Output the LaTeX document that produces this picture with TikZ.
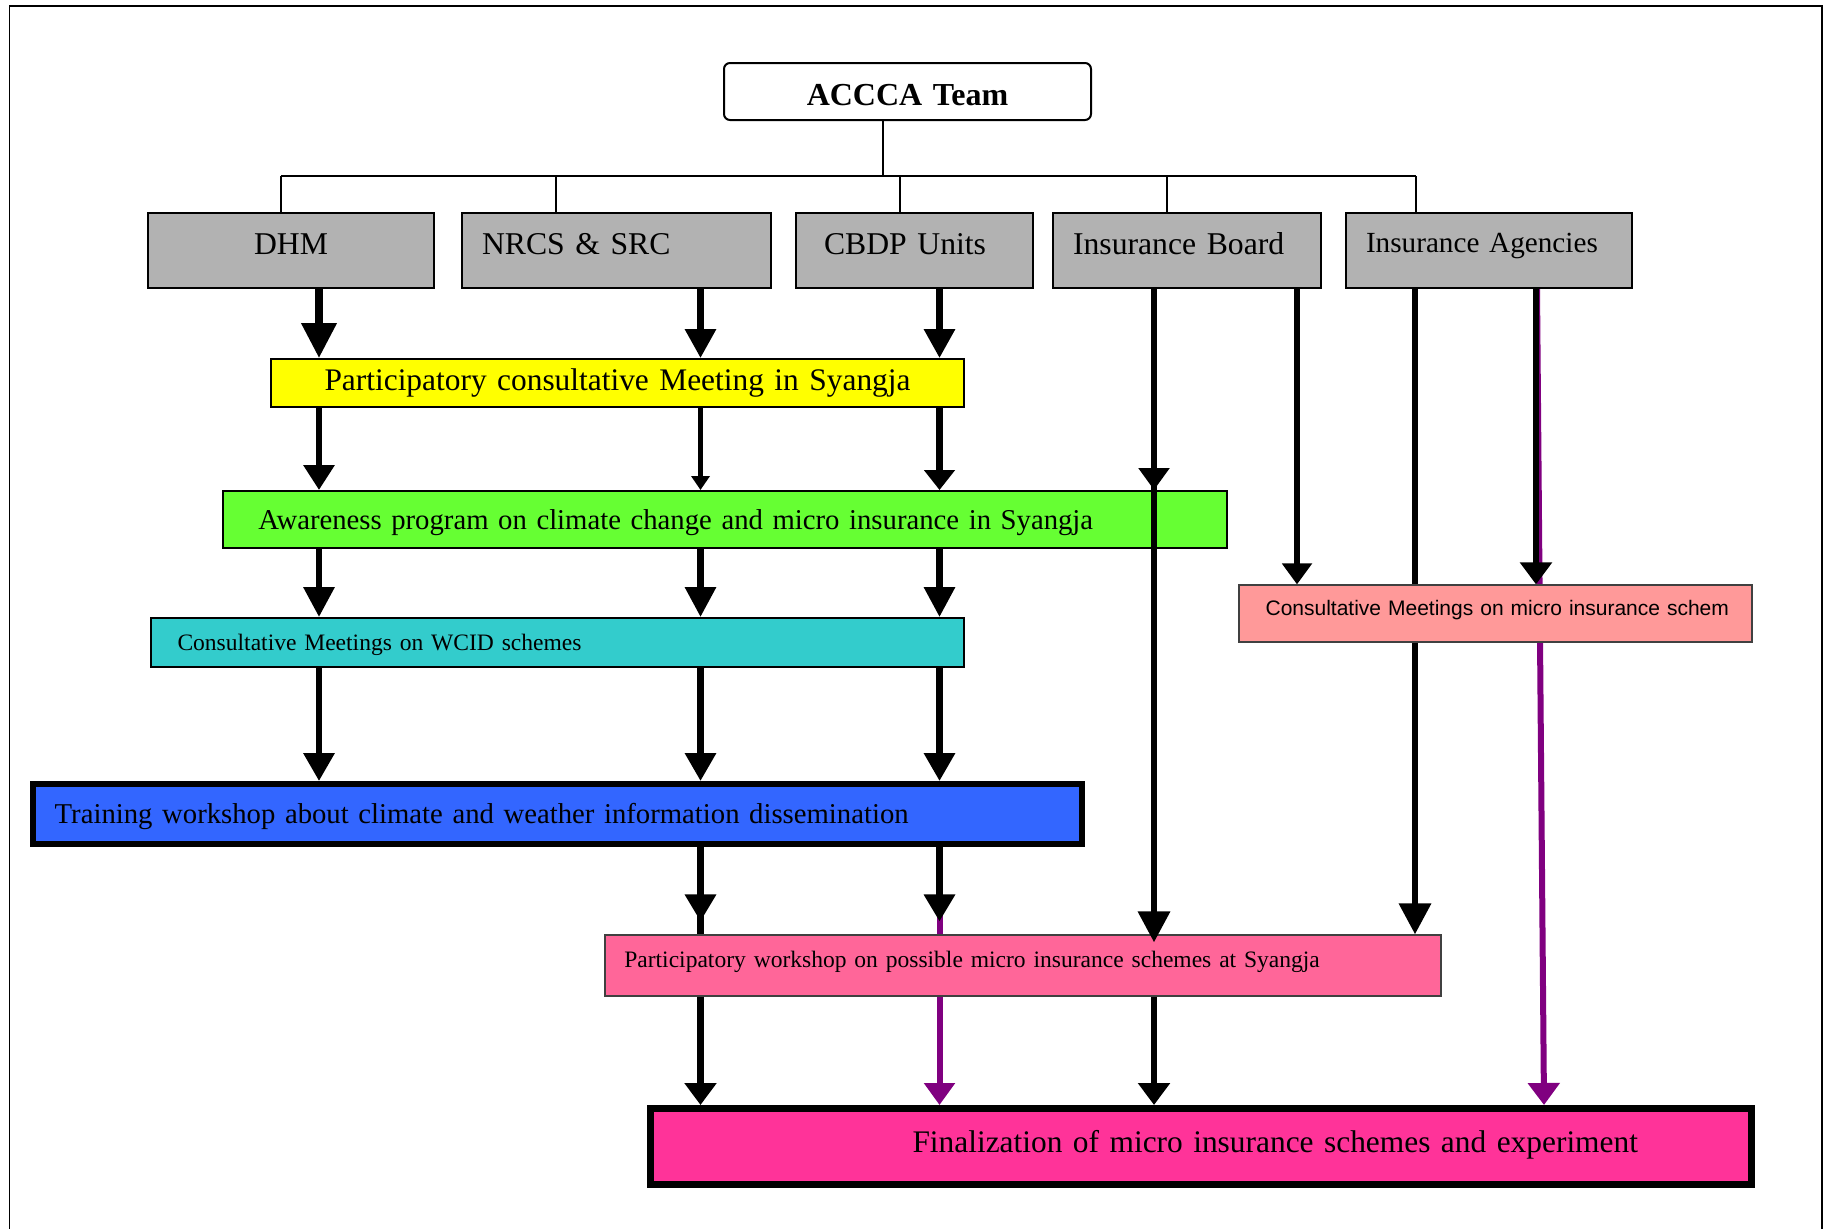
\documentclass[tikz,border=0pt]{standalone}
\usepackage{fontspec}
\setmainfont{Liberation Serif}
\newfontfamily\arialf{Liberation Sans}
\usetikzlibrary{arrows.meta,backgrounds}
\definecolor{greyb}{HTML}{B2B2B2}
\definecolor{yelb}{HTML}{FFFF00}
\definecolor{grnb}{HTML}{66FF33}
\definecolor{cynb}{HTML}{33CCCC}
\definecolor{blub}{HTML}{3366FF}
\definecolor{salb}{HTML}{FF9999}
\definecolor{pnkb}{HTML}{FF6699}
\definecolor{finb}{HTML}{FF3399}
\definecolor{purp}{HTML}{800080}
\definecolor{edgeg}{HTML}{404040}
\begin{document}
\begin{tikzpicture}[x=0.5pt,y=-0.5pt,
  bx/.style n args={3}{rectangle, inner sep=0pt, minimum width=#1, text width=#1,
     minimum height=#2, text height=#3, text depth=0pt, align=left},
  gbox/.style={fill=greyb, draw=black, line width=1pt},
  fsG/.style={font=\fontsize{15.85pt}{19pt}\selectfont},
  fsI/.style={font=\fontsize{14.6pt}{17pt}\selectfont},
  fsA/.style={font=\fontsize{15.7pt}{19pt}\selectfont},
  fsB/.style={font=\fontsize{14.36pt}{17pt}\selectfont},
  fsC/.style={font=\fontsize{11.77pt}{14pt}\selectfont},
  tree/.style={line width=0.8pt, draw=black},
  arr/.style={line width=3.2pt, draw=black},
  parr/.style={line width=3pt, draw=purp, fill=purp},
  hd/.style 2 args={-{Triangle[width=#1,length=#2]}}]
\useasboundingbox (0,0) rectangle (1830,1228);
% frame
\draw[line width=0.8pt] (9.5,1240) -- (9.5,6) -- (1822,6) -- (1822,1240);

% nodes
\node[bx={183.5pt}{28.5pt}{13.5pt}, draw, line width=1pt, rounded corners=3pt, align=center,
      font=\fontsize{16pt}{19pt}\selectfont\bfseries] (acc) at (907.5,91.5) {ACCCA Team};
\node[bx={143pt}{37.5pt}{3.5pt}, gbox, align=center, fsG] (dhm) at (291,250.5) {DHM};
\node[bx={154.5pt}{37.5pt}{3.5pt}, gbox, fsG] (nrcs) at (616.5,250.5) {\hspace*{10pt}NRCS \& SRC};
\node[bx={118.5pt}{37.5pt}{3.5pt}, gbox, fsG] (cbdp) at (914.5,250.5) {\hspace*{14pt}CBDP Units};
\node[bx={134pt}{37.5pt}{3.5pt}, gbox, fsG] (ib) at (1187,250.5) {\hspace*{10pt}Insurance Board};
\node[bx={143pt}{37.5pt}{1.5pt}, gbox, fsI] (ia) at (1489,250.5) {\hspace*{10pt}Insurance Agencies};

\node[bx={346.5pt}{24pt}{7pt}, draw, line width=1pt, fill=yelb, align=center, fsA] (yel) at (617.5,383)
  {Participatory consultative Meeting in Syangja};
\node[bx={501.6pt}{28.5pt}{9.8pt}, draw, line width=1pt, fill=grnb, fsB] (grn) at (725,519.5)
  {\hspace*{17.5pt}Awareness program on climate change and micro insurance in Syangja};
\node[bx={406.75pt}{24.5pt}{8.2pt}, draw, line width=1pt, fill=cynb, fsC] (cyn) at (557.25,642.5)
  {\hspace*{13.5pt}Consultative Meetings on WCID schemes};
\node[bx={256.5pt}{28.5pt}{1.5pt}, draw=edgeg, line width=0.6pt, fill=salb,
      font=\arialf\fontsize{10.5pt}{12.5pt}\selectfont] (sal) at (1495.5,613.5)
  {\hspace*{13.3pt}Consultative Meetings on micro insurance schem};
\node[bx={524.5pt}{30pt}{9.2pt}, draw, line width=3pt, fill=blub, fsB] (blu) at (557.5,814)
  {\hspace*{10.85pt}Training workshop about climate and weather information dissemination};
\node[bx={418pt}{30.5pt}{1.5pt}, draw=edgeg, line width=0.6pt, fill=pnkb, fsC] (pnk) at (1023,965.5)
  {\hspace*{9.65pt}Participatory workshop on possible micro insurance schemes at Syangja};
\node[bx={550.5pt}{38pt}{5.5pt}, draw, line width=3.5pt, fill=finb, fsA] (fin) at (1201,1146.5)
  {\hspace*{131pt}Finalization of micro insurance schemes and experiment};

% column coordinates
\coordinate (cA) at (319,0);
\coordinate (cB) at (700.5,0);
\coordinate (cC) at (939.5,0);
\coordinate (cD) at (1154,0);
\coordinate (cE) at (1297,0);
\coordinate (cF) at (1415,0);
\coordinate (cG) at (1536,0);
\coordinate (cG1) at (1537,0);
\coordinate (cG2) at (1544,0);

% tree
\coordinate (bus) at (883,176);
\coordinate (b1) at (281,176);
\coordinate (b2) at (556,176);
\coordinate (b3) at (900,176);
\coordinate (b4) at (1167,176);
\coordinate (b5) at (1416,176);
\draw[tree] (acc.south -| bus) -- (bus);
\draw[tree] (b1) -- (b5);
\draw[tree] (b1) -- (b1 |- dhm.north);
\draw[tree] (b2) -- (b2 |- nrcs.north);
\draw[tree] (b3) -- (b3 |- cbdp.north);
\draw[tree] (b4) -- (b4 |- ib.north);
\draw[tree] (b5) -- (b5 |- ia.north);

% background connectors (pass behind boxes)
\begin{pgfonlayer}{background}
\draw[parr, hd={15pt}{11pt}] (blu.south -| cC) -- (fin.north -| cC);
\draw[parr, hd={15.5pt}{11pt}] (ia.south -| cG1) -- (fin.north -| cG2);
\draw[arr, hd={15.5pt}{15.5pt}] (ia.south -| cF) -- (pnk.north -| cF);
\end{pgfonlayer}

% row 1
\draw[arr, line width=3.6pt, hd={17pt}{17.5pt}] (dhm.south -| cA) -- (yel.north -| cA);
\draw[arr, hd={15pt}{14.5pt}] (nrcs.south -| cB) -- (yel.north -| cB);
\draw[arr, hd={15pt}{14.5pt}] (cbdp.south -| cC) -- (yel.north -| cC);
% row 2
\draw[arr, hd={15pt}{12.5pt}] (yel.south -| cA) -- (grn.north -| cA);
\draw[arr, line width=2.6pt, hd={9pt}{7pt}] (yel.south -| cB) -- (grn.north -| cB);
\draw[arr, hd={15pt}{10pt}] (yel.south -| cC) -- (grn.north -| cC);
% row 3
\draw[arr, hd={15pt}{15pt}] (grn.south -| cA) -- (cyn.north -| cA);
\draw[arr, hd={15pt}{15pt}] (grn.south -| cB) -- (cyn.north -| cB);
\draw[arr, hd={15pt}{15pt}] (grn.south -| cC) -- (cyn.north -| cC);
% row 4
\draw[arr, hd={15pt}{14pt}] (cyn.south -| cA) -- (blu.north -| cA);
\draw[arr, hd={15pt}{14pt}] (cyn.south -| cB) -- (blu.north -| cB);
\draw[arr, hd={15pt}{14pt}] (cyn.south -| cC) -- (blu.north -| cC);
% row 5
\draw[arr] (blu.south -| cB) -- (pnk.north -| cB);
\draw[arr, hd={15pt}{13.5pt}, shorten >=6.5pt] (blu.south -| cB) -- (pnk.north -| cB);
\draw[arr, hd={15pt}{13.5pt}, shorten >=6.5pt] (blu.south -| cC) -- (pnk.north -| cC);
% row 6
\draw[arr, hd={15.5pt}{11pt}] (pnk.south -| cB) -- (fin.north -| cB);
\draw[arr, hd={15.5pt}{11pt}] (pnk.south -| cD) -- (fin.north -| cD);
% insurance board
\draw[arr, hd={15pt}{11pt}] (ib.south -| cD) -- (grn.north -| cD);
\draw[arr, hd={15.5pt}{15.5pt}, shorten >=-4pt] (ib.south -| cD) -- (pnk.north -| cD);
\draw[arr, hd={14.5pt}{10.5pt}] (ib.south -| cE) -- (sal.north -| cE);
% insurance agencies
\draw[arr, hd={15.5pt}{11pt}] (ia.south -| cG) -- (sal.north -| cG);
\end{tikzpicture}
\end{document}
